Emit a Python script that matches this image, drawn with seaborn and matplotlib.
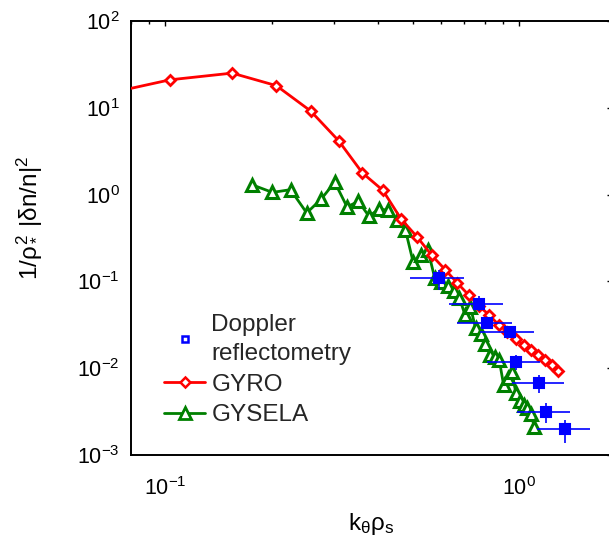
import matplotlib
matplotlib.use("Agg")
import matplotlib.pyplot as plt
from matplotlib.lines import Line2D
from matplotlib.ticker import LogLocator, NullFormatter
import numpy as np
import pandas as pd
import seaborn as sns

# ---- data ----
gyro_k = [0.0515, 0.103, 0.1545, 0.206, 0.2575, 0.309, 0.3605, 0.412, 0.4635, 0.515,
          0.5665, 0.618, 0.6695, 0.721, 0.7725, 0.824, 0.8755, 0.927, 0.9785, 1.03,
          1.0815, 1.133, 1.1845, 1.236, 1.2875]
gyro_s = [11.3, 21.0, 25.1, 18.0, 9.19, 4.17, 1.78, 1.12, 0.525, 0.325,
          0.1995, 0.1365, 0.0953, 0.0693, 0.0515, 0.0408, 0.0315, 0.0263, 0.0215, 0.0186,
          0.0162, 0.0141, 0.0123, 0.0108, 0.0094]

gysela_k = [0.1757, 0.2008, 0.2259, 0.251, 0.2761, 0.3012, 0.3263, 0.3514, 0.3765, 0.4016,
            0.4267, 0.4518, 0.4769, 0.502, 0.5271, 0.5522, 0.5773, 0.6024, 0.6275, 0.6526,
            0.6777, 0.7028, 0.7279, 0.753, 0.7781, 0.8032, 0.8283, 0.8534, 0.8785, 0.9036,
            0.9287, 0.9538, 0.9789, 1.004, 1.0291, 1.0542, 1.0793, 1.1044]
gysela_s = [1.30, 1.06, 1.14, 0.615, 0.892, 1.39, 0.722, 0.837, 0.562, 0.684,
            0.659, 0.515, 0.395, 0.1656, 0.203, 0.232, 0.1094, 0.0993, 0.0892, 0.0781,
            0.0649, 0.0413, 0.0511, 0.0292, 0.0249, 0.0191, 0.0143, 0.0135, 0.0125, 0.00644,
            0.00775, 0.00908, 0.0052, 0.00421, 0.00378, 0.00349, 0.00298, 0.00211]

dop_k = [0.594, 0.768, 0.810, 0.941, 0.981, 1.141, 1.19, 1.348]
dop_s = [0.1094, 0.0553, 0.033, 0.0261, 0.01164, 0.00684, 0.00314, 0.00199]
dop_k_lo = [0.4925, 0.634, 0.667, 0.776, 0.8105, 0.954, 0.985, 1.122]
dop_k_hi = [0.6965, 0.903, 0.954, 1.102, 1.146, 1.34, 1.393, 1.586]
dop_s_lo = [0.0802, 0.0451, 0.0281, 0.0222, 0.0096, 0.00516, 0.00233, 0.00139]
dop_s_hi = [0.1364, 0.0671, 0.0386, 0.0306, 0.0143, 0.0084, 0.00396, 0.00254]

labels = ["Doppler\nreflectometry", "GYRO", "GYSELA"]

# ---- style ----
sns.set_theme(style="white")
plt.rcParams["font.family"] = ["Liberation Sans", "DejaVu Sans"]
plt.rcParams["mathtext.fontset"] = "custom"
plt.rcParams["mathtext.rm"] = "Liberation Sans"
plt.rcParams["mathtext.it"] = "Liberation Sans"
plt.rcParams["mathtext.sf"] = "Liberation Sans"
plt.rcParams["mathtext.bf"] = "Liberation Sans:bold"

RED = "#ff0000"
GREEN = "#008000"
BLUE = "#0000ff"

W, H = 609, 543
fig = plt.figure(figsize=(W / 100, H / 100), dpi=100)
ax = fig.add_axes([131 / W, 1 - 455 / H, (612 - 131) / W, 434 / H])
ax.set_xscale("log")
ax.set_yscale("log")

df_gysela = pd.DataFrame({"k": gysela_k, "s": gysela_s})
df_gyro = pd.DataFrame({"k": gyro_k, "s": gyro_s})

sns.lineplot(data=df_gysela, x="k", y="s", ax=ax, color=GREEN, marker="^",
             markersize=8.5, markerfacecolor="white", markeredgecolor=GREEN,
             markeredgewidth=2.2, linewidth=2.0, errorbar=None, legend=False, zorder=3)
sns.lineplot(data=df_gyro, x="k", y="s", ax=ax, color=RED, marker="D",
             markersize=5.3, markerfacecolor="white", markeredgecolor=RED,
             markeredgewidth=2.0, linewidth=2.0, errorbar=None, legend=False, zorder=4)

k = np.array(dop_k)
s = np.array(dop_s)
xerr = [k - np.array(dop_k_lo), np.array(dop_k_hi) - k]
yerr = [s - np.array(dop_s_lo), np.array(dop_s_hi) - s]
ax.errorbar(k, s, xerr=xerr, yerr=yerr, fmt="s", color=BLUE, ms=6.5,
            mfc=BLUE, mec=BLUE, mew=1.5, elinewidth=1.2, capsize=0, zorder=5)

ax.set_xlim(0.08, 1.83)
ax.set_ylim(1e-3, 1e2)

ax.xaxis.set_major_locator(LogLocator(base=10))
ax.xaxis.set_minor_locator(LogLocator(base=10, subs=np.arange(2, 10)))
ax.yaxis.set_major_locator(LogLocator(base=10))
ax.yaxis.set_minor_locator(LogLocator(base=10, subs=np.arange(2, 10)))
ax.xaxis.set_minor_formatter(NullFormatter())
ax.yaxis.set_minor_formatter(NullFormatter())

ax.tick_params(which="both", direction="in", top=True, right=True, colors="black",
               width=1.0, labelsize=15.5)
ax.tick_params(which="major", length=3.6)
ax.tick_params(which="minor", length=2.2)
ax.tick_params(axis="y", pad=8)
ax.tick_params(axis="x", pad=16)
for sp in ax.spines.values():
    sp.set_color("black")
    sp.set_linewidth(1.4)

ax.set_ylabel(r"$1/\rho_*^2\ |\delta n/n|^2$", fontsize=17.5, color="black")
ax.set_xlabel(r"$k_\theta\rho_s$", fontsize=17.5, color="black")
ax.yaxis.set_label_coords(-0.183, 0.546)
ax.xaxis.set_label_coords(0.5, -0.129)

handles = [
    Line2D([], [], linestyle="none", marker="s", ms=4.5, mfc="white", mec=BLUE, mew=1.8),
    Line2D([], [], color=RED, lw=2.0, marker="D", ms=5, mfc="white", mec=RED, mew=1.8),
    Line2D([], [], color=GREEN, lw=2.0, marker="^", ms=8, mfc="white", mec=GREEN, mew=2.0),
]
leg = ax.legend(handles, labels, loc="upper left", bbox_to_anchor=(164 / W, 1 - 314 / H),
                bbox_transform=fig.transFigure, frameon=False, fontsize=17.5, borderpad=0,
                borderaxespad=0, handlelength=1.7, handletextpad=0.25, labelspacing=0.36)
leg.get_texts()[0].set_linespacing(1.4)

fig.savefig("out.png", dpi=100)
